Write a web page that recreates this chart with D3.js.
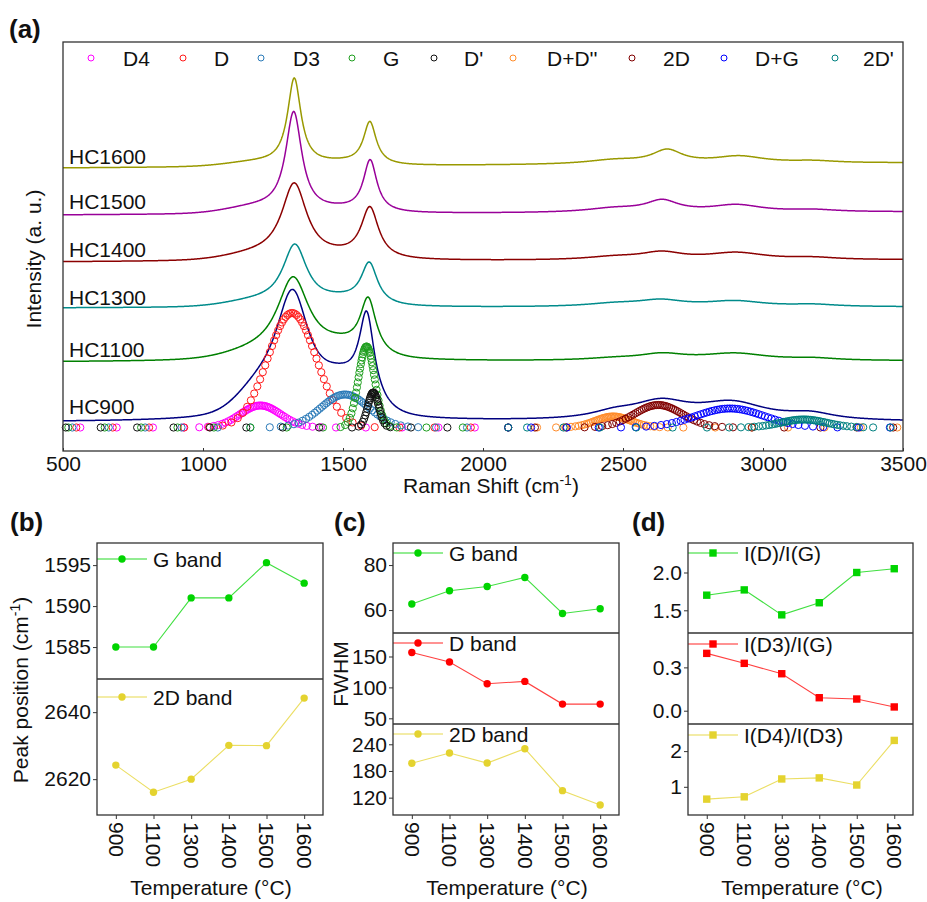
<!DOCTYPE html>
<html><head><meta charset="utf-8">
<script src="https://cdn.jsdelivr.net/npm/d3@7"></script>
<style>
body{margin:0;background:#fff}
text{font-family:"Liberation Sans",Arial,sans-serif;fill:#111}
</style>
</head><body>
<svg id="fig" width="927" height="902"></svg>
<script>
// ================= DATA =================
// Panel (a): Raman spectra, modelled from peaks
const ramanTicks = [500, 1000, 1500, 2000, 2500, 3000, 3500];
const sampleNames = ["HC1600", "HC1500", "HC1400", "HC1300", "HC1100", "HC900"];
const baselineStart = [283, 236, 189, 143, 89, 29];   // intensity at 500 cm-1 (a.u.)
const baselineEnd   = [288, 239, 191, 144, 90, 29];   // intensity at 3500 cm-1
const linePeakNames  = ["D4", "D", "D3", "G", "D+D''", "2D", "D+G", "2D'"];
const linePeakShapes = ["gauss", "lorentz", "gauss", "lorentz", "lorentz", "lorentz", "lorentz", "lorentz"];
const lineCenters = [
  [1190, 1326, 1500, 1596, 2470, 2658, 2915, 3180],
  [1190, 1324, 1500, 1597, 2470, 2640, 2905, 3180],
  [1190, 1326, 1500, 1596, 2470, 2638, 2905, 3180],
  [1190, 1328, 1500, 1594, 2470, 2635, 2900, 3180],
  [1190, 1322, 1500, 1590, 2470, 2640, 2900, 3180],
  [1200, 1320, 1500, 1585, 2470, 2635, 2890, 3170]
];
const lineHeights = [
  [4, 86, 3, 42, 4, 13, 7, 2],
  [6, 99, 3, 51, 4, 11, 7, 2],
  [5, 75, 3, 50, 3, 7, 7, 2],
  [5, 60, 6, 40, 3, 6, 5.5, 2],
  [6, 80, 11, 53, 2, 6, 7, 2],
  [20, 122, 30, 83, 6, 17, 17, 6]
];
const lineWidths = [
  [250, 58, 200, 55, 250, 130, 220, 200],
  [250, 70, 200, 58, 250, 140, 220, 200],
  [250, 110, 200, 75, 250, 180, 250, 200],
  [250, 105, 200, 70, 250, 200, 250, 200],
  [250, 140, 200, 68, 250, 200, 280, 200],
  [180, 150, 200, 65, 200, 250, 300, 200]
];
// HC900 fitted components (Gaussian)
const compNames   = ["D4", "D", "D3", "G", "D'", "D+D''", "2D", "D+G", "2D'"];
const compCenters = [1205, 1318, 1507, 1584, 1608, 2465, 2626, 2882, 3145];
const compHeights = [22, 114.5, 33, 81, 35, 11, 22.5, 19, 8];
const compFwhm    = [170, 204, 200, 68, 46, 150, 200, 286, 190];
const compBase    = 23.5;
const compRangeLo = [510, 510, 510, 510, 510, 2090, 2090, 2090, 2090];
const compRangeHi = [1990, 1990, 1990, 1990, 1990, 3490, 3490, 3490, 3490];

// Panels (b)-(d)
const temps = ["900", "1100", "1300", "1400", "1500", "1600"];
const gPosition   = [1585, 1585, 1591, 1591, 1595.3, 1592.8];
const twoDPosition = [2624.2, 2616.1, 2620, 2630.1, 2630, 2644.2];
const gFwhm    = [62.7, 68.6, 70.5, 74.5, 58.5, 60.6];
const dFwhm    = [156.5, 141, 106, 109.7, 73, 73];
const twoDFwhm = [197.3, 220.4, 197.8, 230, 135.7, 103.6];
const ratioDG   = [1.70, 1.77, 1.44, 1.60, 2.00, 2.05];
const ratioD3G  = [0.397, 0.328, 0.256, 0.090, 0.081, 0.026];
const ratioD4D3 = [0.655, 0.72, 1.22, 1.25, 1.05, 2.30];

// ================= STYLE =================
const FONT = 21;
const sampleColors = ["#999900", "#990099", "#8b0000", "#008b8b", "#008000", "#000080"];
const compColors = ["#ff00ff", "#ff1a1a", "#2a7ab8", "#1f9f1f", "#111111", "#ff8c2a", "#800000", "#0000ff", "#008080"];
const GREEN = "#00d400", RED = "#ff0000", YEL = "#e4d32f";
const frameColor = "#333";

const svg = d3.select("#fig");

// ================= PANEL (a) =================
const ax0 = 63, ax1 = 903, ay0 = 42, ay1 = 451;
const x = d3.scaleLinear().domain([500, 3500]).range([ax0, ax1]);
const y = d3.scaleLinear().domain([0, 409]).range([ay1, ay0]);
const ga = svg.append("g");

function peakVal(shape, c, h, w, v) {
  if (shape === "gauss") { const s = w / 2.3548; return h * Math.exp(-((v - c) ** 2) / (2 * s * s)); }
  const hw = w / 2; return h / (1 + ((v - c) / hw) ** 2);
}
const grid = d3.range(500, 3500.1, 2);
sampleNames.forEach((name, i) => {
  const pts = grid.map(v => {
    let val = baselineStart[i] + (baselineEnd[i] - baselineStart[i]) * (v - 500) / 3000;
    linePeakShapes.forEach((sh, k) => { val += peakVal(sh, lineCenters[i][k], lineHeights[i][k], lineWidths[i][k], v); });
    return [v, val];
  });
  ga.append("path").datum(pts)
    .attr("d", d3.line().x(d => x(d[0])).y(d => y(d[1])))
    .attr("fill", "none").attr("stroke", sampleColors[i]).attr("stroke-width", 1.5);
});

// fitted components: markers placed along each component
function compSamples(k) {
  const c = compCenters[k], h = compHeights[k], w = compFwhm[k];
  const s = w / 2.3548, core = Math.max(2.2, w / 30);
  const out = []; let acc = 0.6 + 0.11 * k;
  for (let v = compRangeLo[k]; v <= compRangeHi[k]; v += 0.25) {
    const g = Math.exp(-((v - c) ** 2) / (2 * s * s));
    acc += (1 / 130 + Math.sqrt(g) / core) * 0.25;
    if (acc >= 1) { acc -= 1; out.push([v, compBase + h * g]); }
  }
  return out;
}
compNames.forEach((n, k) => {
  ga.append("g").selectAll("circle").data(compSamples(k)).join("circle")
    .attr("cx", d => x(d[0])).attr("cy", d => y(d[1])).attr("r", 3.6)
    .attr("fill", "none").attr("stroke", compColors[k]).attr("stroke-width", 1);
});

// sample labels
const labelY = [164, 209, 257, 305, 357, 414];
sampleNames.forEach((n, i) => {
  ga.append("text").attr("x", 69).attr("y", labelY[i]).attr("font-size", FONT).text(n);
});

// legend
const legCircleX = [91, 183, 261, 352, 434, 513, 632, 724, 835];
const legTextX = [123, 214, 293, 383, 464, 547, 663, 755, 863];
compNames.forEach((n, k) => {
  ga.append("circle").attr("cx", legCircleX[k]).attr("cy", 58).attr("r", 3)
    .attr("fill", "none").attr("stroke", compColors[k]).attr("stroke-width", 1);
  ga.append("text").attr("x", legTextX[k]).attr("y", 58).attr("dy", "0.36em")
    .attr("font-size", FONT).text(n);
});

// axis
const xAxis = ga.append("g").attr("transform", `translate(0,${ay1})`)
  .call(d3.axisBottom(x).tickValues(ramanTicks).tickSize(-3).tickPadding(5).tickFormat(d3.format("d")));
xAxis.select(".domain").remove();
xAxis.selectAll("line").attr("stroke", frameColor);
xAxis.selectAll("text").attr("font-size", FONT).attr("font-family", "Liberation Sans, Arial, sans-serif").attr("fill", "#111");
ga.append("rect").attr("x", ax0).attr("y", ay0).attr("width", ax1 - ax0).attr("height", ay1 - ay0)
  .attr("fill", "none").attr("stroke", frameColor).attr("stroke-width", 1.3);

const xt = ga.append("text").attr("x", 491).attr("y", 493).attr("text-anchor", "middle").attr("font-size", FONT);
xt.append("tspan").text("Raman Shift (cm");
xt.append("tspan").attr("dy", -8).attr("font-size", 14).text("-1");
xt.append("tspan").attr("dy", 8).text(")");
ga.append("text").attr("transform", "translate(41,259) rotate(-90)").attr("text-anchor", "middle")
  .attr("font-size", FONT).text("Intensity (a. u.)");
svg.append("text").attr("x", 9).attr("y", 38).attr("font-size", 26).attr("font-weight", "bold").text("(a)");

// ================= PANELS (b)-(d) =================
function subplot(g, x0, x1, yTop, yBot, domain, ticks, fmt, values, color, marker, legendText, legOff) {
  const sx = d3.scalePoint().domain(temps).range([x0, x1]).padding(0.5);
  const sy = d3.scaleLinear().domain(domain).range([yBot, yTop]);
  const ya = g.append("g").attr("transform", `translate(${x0},0)`)
    .call(d3.axisLeft(sy).tickValues(ticks).tickSize(4).tickPadding(2).tickFormat(fmt));
  ya.select(".domain").remove();
  ya.selectAll("line").attr("stroke", frameColor);
  ya.selectAll("text").attr("font-size", FONT).attr("font-family", "Liberation Sans, Arial, sans-serif").attr("fill", "#111");
  const pts = temps.map((t, i) => [sx(t), sy(values[i])]);
  g.append("path").datum(pts).attr("d", d3.line()).attr("fill", "none")
    .attr("stroke", color).attr("stroke-width", 1.1).attr("stroke-opacity", 0.75);
  const ly = yTop + legOff;
  g.append("line").attr("x1", x0).attr("x2", x0 + 50).attr("y1", ly).attr("y2", ly)
    .attr("stroke", color).attr("stroke-width", 1.1).attr("stroke-opacity", 0.85);
  const mk = pts.concat([[x0 + 25, ly]]);
  if (marker === "circle") {
    g.append("g").selectAll("circle").data(mk).join("circle")
      .attr("cx", d => d[0]).attr("cy", d => d[1]).attr("r", 3.7).attr("fill", color);
  } else {
    g.append("g").selectAll("rect").data(mk).join("rect")
      .attr("x", d => d[0] - 3.7).attr("y", d => d[1] - 3.7).attr("width", 7.4).attr("height", 7.4).attr("fill", color);
  }
  g.append("text").attr("x", x0 + 56).attr("y", ly).attr("dy", "0.36em").attr("font-size", FONT).text(legendText);
  return sx;
}
function xCats(g, sx, yb) {
  const xa = g.append("g").attr("transform", `translate(0,${yb})`)
    .call(d3.axisBottom(sx).tickSize(4));
  xa.select(".domain").remove();
  xa.selectAll("line").attr("stroke", frameColor);
  xa.selectAll("text").attr("font-size", FONT).attr("font-family", "Liberation Sans, Arial, sans-serif").attr("fill", "#111")
    .attr("transform", "rotate(90)").attr("text-anchor", "start")
    .attr("x", 7).attr("y", 0).attr("dy", "0.36em");
}
function frame(g, x0, x1, ys) {
  g.append("rect").attr("x", x0).attr("y", ys[0]).attr("width", x1 - x0).attr("height", ys[ys.length - 1] - ys[0])
    .attr("fill", "none").attr("stroke", frameColor).attr("stroke-width", 1.3);
  ys.slice(1, -1).forEach(v => g.append("line").attr("x1", x0).attr("x2", x1).attr("y1", v).attr("y2", v)
    .attr("stroke", frameColor).attr("stroke-width", 1.3));
}
const f1 = d3.format(".1f"), fd = d3.format("d");

// (b)
const gb = svg.append("g");
let sxb = subplot(gb, 97, 323, 543, 679, [1581.1, 1597.7], [1585, 1590, 1595], fd, gPosition, GREEN, "circle", "G band", 16);
subplot(gb, 97, 323, 679, 815, [2609.3, 2649.9], [2620, 2640], fd, twoDPosition, YEL, "circle", "2D band", 18);
xCats(gb, sxb, 815);
frame(gb, 97, 323, [543, 679, 815]);
const yb = gb.append("text").attr("transform", "translate(28,690) rotate(-90)").attr("text-anchor", "middle").attr("font-size", FONT);
yb.append("tspan").text("Peak position (cm");
yb.append("tspan").attr("dy", -8).attr("font-size", 14).text("-1");
yb.append("tspan").attr("dy", 8).text(")");
gb.append("text").attr("x", 211).attr("y", 895).attr("text-anchor", "middle").attr("font-size", FONT).text("Temperature (°C)");
svg.append("text").attr("x", 10).attr("y", 531).attr("font-size", 26).attr("font-weight", "bold").text("(b)");

// (c)
const gc = svg.append("g");
let sxc = subplot(gc, 393, 619, 543, 633, [49.8, 89.8], [60, 80], fd, gFwhm, GREEN, "circle", "G band", 10);
subplot(gc, 393, 619, 633, 724, [40.8, 188], [50, 100, 150], fd, dFwhm, RED, "circle", "D band", 10);
subplot(gc, 393, 619, 724, 815, [81, 285.6], [120, 180, 240], fd, twoDFwhm, YEL, "circle", "2D band", 10);
xCats(gc, sxc, 815);
frame(gc, 393, 619, [543, 633, 724, 815]);
gc.append("text").attr("transform", "translate(348,674) rotate(-90)").attr("text-anchor", "middle").attr("font-size", FONT).text("FWHM");
gc.append("text").attr("x", 507).attr("y", 895).attr("text-anchor", "middle").attr("font-size", FONT).text("Temperature (°C)");
svg.append("text").attr("x", 334).attr("y", 531).attr("font-size", 26).attr("font-weight", "bold").text("(c)");

// (d)
const gd = svg.append("g");
let sxd = subplot(gd, 688, 913, 543, 633, [1.2, 2.39], [1.5, 2.0], f1, ratioDG, GREEN, "square", "I(D)/I(G)", 10);
subplot(gd, 688, 913, 633, 724, [-0.092, 0.538], [0.0, 0.3], f1, ratioD3G, RED, "square", "I(D3)/I(G)", 11);
subplot(gd, 688, 913, 724, 815, [0.21, 2.76], [1, 2], fd, ratioD4D3, YEL, "square", "I(D4)/I(D3)", 11);
xCats(gd, sxd, 815);
frame(gd, 688, 913, [543, 633, 724, 815]);
gd.append("text").attr("x", 802).attr("y", 895).attr("text-anchor", "middle").attr("font-size", FONT).text("Temperature (°C)");
svg.append("text").attr("x", 632).attr("y", 531).attr("font-size", 26).attr("font-weight", "bold").text("(d)");
</script>
</body></html>
